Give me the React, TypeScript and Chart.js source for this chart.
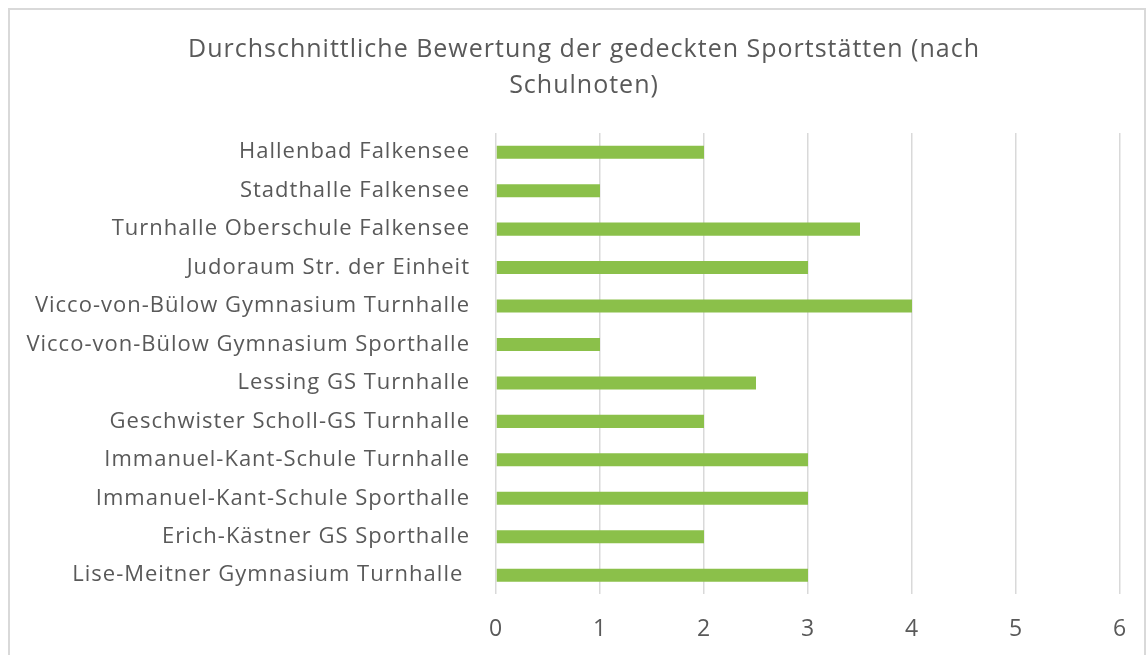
import React, { useEffect, useRef } from "react";
import { Chart, registerables } from "chart.js";

Chart.register(...registerables);

const categories = [
  "Hallenbad Falkensee",
  "Stadthalle Falkensee",
  "Turnhalle Oberschule Falkensee",
  "Judoraum Str. der Einheit",
  "Vicco-von-Bülow Gymnasium Turnhalle",
  "Vicco-von-Bülow Gymnasium Sporthalle",
  "Lessing GS Turnhalle",
  "Geschwister Scholl-GS Turnhalle",
  "Immanuel-Kant-Schule Turnhalle",
  "Immanuel-Kant-Schule Sporthalle",
  "Erich-Kästner GS Sporthalle",
  "Lise-Meitner Gymnasium Turnhalle ",
];

const ratings = [2, 1, 3.5, 3, 4, 1, 2.5, 2, 3, 3, 2, 3];

const titleLines = [
  "Durchschnittliche Bewertung der gedeckten Sportstätten (nach",
  "Schulnoten)",
];

const xMin = 0;
const xMax = 6;

const FONT = "'Open Sans', sans-serif";
const TEXT = "#595959";

const spacingPlugin = {
  id: "letterSpacing",
  beforeUpdate(chart: any) {
    chart.ctx.letterSpacing = "1px";
  },
  beforeDraw(chart: any) {
    chart.ctx.letterSpacing = "1px";
  },
};

export default function App() {
  const ref = useRef<HTMLCanvasElement | null>(null);

  useEffect(() => {
    if (!ref.current) return;
    const chart = new Chart(ref.current, {
      type: "bar",
      data: {
        labels: categories,
        datasets: [
          {
            data: ratings,
            backgroundColor: "#8BC04A",
            categoryPercentage: 1,
            barPercentage: 0.34,
          },
        ],
      },
      plugins: [spacingPlugin],
      options: {
        indexAxis: "y",
        animation: false,
        responsive: false,
        maintainAspectRatio: false,
        layout: { padding: { left: 0, right: 24, top: 123, bottom: 15 } },
        plugins: {
          legend: { display: false },
          tooltip: { enabled: false },
          title: { display: false },
        },
        scales: {
          x: {
            min: xMin,
            max: xMax,
            ticks: {
              stepSize: 1,
              color: TEXT,
              padding: 0,
              font: { family: FONT, size: 23, weight: "normal" },
            },
            grid: {
              color: "#d9d9d9",
              lineWidth: 1.5,
              drawTicks: true,
              tickLength: 21,
              tickColor: "rgba(0,0,0,0)",
            },
            border: { display: false },
          },
          y: {
            ticks: {
              color: TEXT,
              padding: 26,
              font: { family: FONT, size: 22, weight: "normal" },
              autoSkip: false,
            },
            grid: { display: false, drawTicks: false },
            border: { display: false },
            afterFit: (scale: any) => {
              scale.width = 486;
            },
          },
        },
      },
    });
    return () => chart.destroy();
  }, []);

  return (
    <div
      style={{
        position: "fixed",
        left: 8,
        top: 8,
        width: 1134,
        height: 690,
        borderTop: "2px solid #d9d9d9",
        borderLeft: "2px solid #d9d9d9",
        borderRight: "2px solid #d9d9d9",
        background: "#fff",
      }}
    >
      <div
        style={{
          position: "absolute",
          left: 30,
          width: 1088,
          top: 19,
          textAlign: "center",
          fontFamily: FONT,
          fontSize: 25,
          lineHeight: "36px",
          letterSpacing: "1px",
          color: TEXT,
          whiteSpace: "nowrap",
        }}
      >
        {titleLines.map((t, i) => (
          <div key={i}>{t}</div>
        ))}
      </div>
      <canvas ref={ref} width={1134} height={648} style={{ display: "block" }} />
    </div>
  );
}
